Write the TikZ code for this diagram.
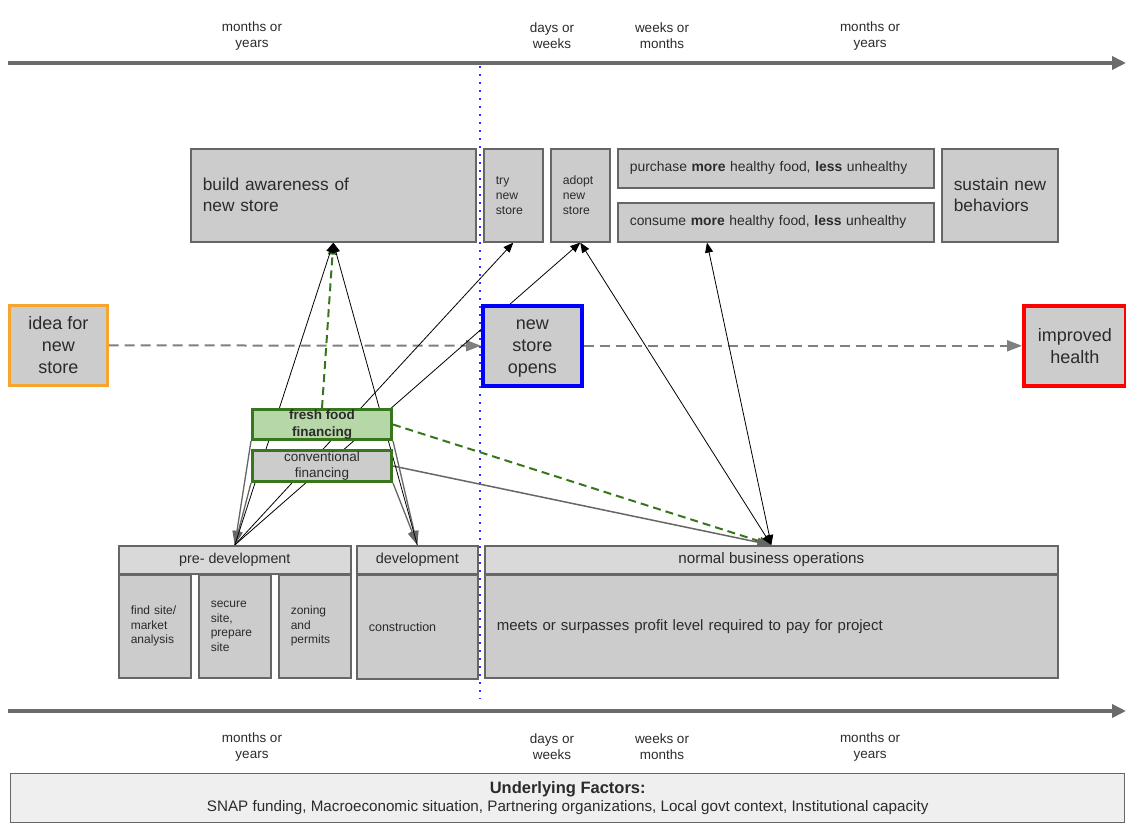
\documentclass[tikz,border=0pt]{standalone}
\usepackage{fontspec}
\setmainfont{Liberation Sans}
\usetikzlibrary{arrows.meta,calc,backgrounds}
\definecolor{boxfill}{HTML}{CCCCCC}
\definecolor{hdrfill}{HTML}{D9D9D9}
\definecolor{boxline}{HTML}{666666}
\definecolor{txt}{HTML}{2B2B2B}
\definecolor{gfill}{HTML}{B6D7A8}
\definecolor{gline}{HTML}{38761D}
\definecolor{orng}{HTML}{F6A530}
\definecolor{tline}{HTML}{6B6B6B}
\definecolor{dgray}{HTML}{7F7F7F}
\definecolor{ufill}{HTML}{EFEFEF}
\begin{document}
\begin{tikzpicture}[x=1pt,y=-1pt,
  every node/.style={text=txt},
  box/.style={draw=boxline, fill=boxfill, line width=1.6pt, inner sep=0pt, anchor=north west},
  hdr/.style={box, fill=hdrfill},
  blk/.style={draw=black, line width=0.8pt, -{Triangle[length=10pt,width=8pt]}},
  blk2/.style={draw=black, line width=0.8pt, {Triangle[length=10pt,width=8pt]}-{Triangle[length=10pt,width=8pt]}},
  gra/.style={draw=boxline, line width=1.3pt, -{Triangle[length=14pt,width=9pt]}},
  gdash/.style={draw=gline, line width=2pt, dash pattern=on 8pt off 5pt, -{Triangle[length=12pt,width=9pt]}},
  tldash/.style={draw=dgray, line width=2pt, dash pattern=on 10pt off 6pt, -{Triangle[length=15pt,width=11pt]}},
  tlarrow/.style={draw=tline, line width=3.5pt, -{Triangle[length=14pt,width=13pt]}},
  tlab/.style={font=\fontsize{13.5}{16}\selectfont, align=center}
]
\useasboundingbox (0,0) rectangle (1126,824);

% top row
\node[box, minimum width=285pt, minimum height=93pt, text width=261pt, align=left, font=\fontsize{17.3}{21}\selectfont] (aware) at (190,148) {build awareness of\\new store};
\node[box, minimum width=59pt, minimum height=93pt, text width=35pt, align=left, font=\fontsize{12.2}{15}\selectfont] (try) at (483,148) {try\\new\\store};
\node[box, minimum width=59pt, minimum height=93pt, text width=35pt, align=left, font=\fontsize{12.2}{15}\selectfont] (adopt) at (550,148) {adopt\\new\\store};
\node[box, minimum width=316pt, minimum height=39pt, text width=292pt, align=left, font=\fontsize{13.9}{16}\selectfont] (purchase) at (617,148) {purchase \textbf{more} healthy food, \textbf{less} unhealthy};
\node[box, minimum width=316pt, minimum height=39pt, text width=292pt, align=left, font=\fontsize{13.9}{16}\selectfont] (consume) at (617,202) {consume \textbf{more} healthy food, \textbf{less} unhealthy};
\node[box, minimum width=116pt, minimum height=93pt, text width=92pt, align=left, font=\fontsize{17.3}{21}\selectfont] (sustain) at (941,148) {\mbox{sustain new}\\behaviors};

% middle row
\node[box, draw=orng, line width=2.6pt, minimum width=98pt, minimum height=80pt, align=center, font=\fontsize{18}{22}\selectfont] (idea) at (8,304) {idea for\\new\\store};
\node[box, draw=blue, line width=3.6pt, minimum width=99pt, minimum height=80pt, align=center, font=\fontsize{18}{22}\selectfont] (opens) at (481,304) {\rule{0pt}{16pt}new\\store\\opens};
\node[box, draw=red, line width=3.6pt, minimum width=102pt, minimum height=80pt, align=center, font=\fontsize{18}{22}\selectfont] (health) at (1022,304) {improved\\health};

% financing
\node[box, draw=gline, fill=gfill, line width=3pt, minimum width=139pt, minimum height=30pt, align=center, font=\fontsize{13.5}{17}\selectfont\bfseries] (fresh) at (251,408) {fresh food\\financing};
\node[box, draw=gline, line width=3pt, minimum width=139pt, minimum height=31pt, align=center, font=\fontsize{13.5}{16}\selectfont] (conv) at (251,449) {conventional\\financing};

% bottom row
\node[hdr, minimum width=232pt, minimum height=28pt, font=\fontsize{14.3}{16}\selectfont] (predev) at (118,545) {pre- development};
\node[box, minimum width=72pt, minimum height=103pt, text width=48pt, align=left, font=\fontsize{12}{14.5}\selectfont] (find) at (118,574) {find site/\\market\\analysis};
\node[box, minimum width=72pt, minimum height=103pt, text width=48pt, align=left, font=\fontsize{12}{14.5}\selectfont] (secure) at (198,574) {secure\\site,\\prepare\\site};
\node[box, minimum width=72pt, minimum height=103pt, text width=48pt, align=left, font=\fontsize{12}{14.5}\selectfont] (zoning) at (278,574) {zoning\\and\\permits};
\node[hdr, minimum width=121pt, minimum height=28pt, font=\fontsize{14.5}{17}\selectfont] (dev) at (356,545) {development};
\node[box, minimum width=121pt, minimum height=104pt, text width=97pt, align=left, font=\fontsize{12.5}{15}\selectfont] (constr) at (356,574) {construction};
\node[hdr, minimum width=573pt, minimum height=28pt, font=\fontsize{15.2}{17}\selectfont] (ops) at (484,545) {normal business operations};
\node[box, minimum width=573pt, minimum height=103pt, text width=549pt, align=left, font=\fontsize{15}{18}\selectfont] (meets) at (484,574) {meets or surpasses profit level required to pay for project};

% underlying factors
\node[box, fill=ufill, line width=1.4pt, minimum width=1114pt, minimum height=49pt, align=center, font=\fontsize{15.2}{18}\selectfont] (under) at (10,773) {{\fontsize{16.5}{18}\selectfont\textbf{Underlying Factors:}}\\SNAP funding, Macroeconomic situation, Partnering organizations, Local govt context, Institutional capacity};

% timeline labels
\node[tlab] (t1) at (252,36) {months or\\years};
\node[tlab] (t2) at (552,36) {days or\\weeks};
\node[tlab] (t3) at (662,36) {weeks or\\months};
\node[tlab] (t4) at (870,36) {months or\\years};
\node[tlab] (b1) at (252,747) {months or\\years};
\node[tlab] (b2) at (552,747) {days or\\weeks};
\node[tlab] (b3) at (662,747) {weeks or\\months};
\node[tlab] (b4) at (870,747) {months or\\years};

\coordinate (tlA) at (8,63);
\coordinate (tlB) at (1126,63);
\coordinate (blA) at (8,711);
\coordinate (blB) at (1126,711);
\coordinate (vA) at (480,66);
\coordinate (vB) at (480,699);
\coordinate (cons) at ($(consume.south west)+(90,0)$);

\begin{scope}[on background layer]
\draw[tlarrow] (tlA) -- (tlB);
\draw[tlarrow] (blA) -- (blB);
\draw[blue!80!white, line width=2pt, dash pattern=on 2pt off 6pt] (vA) -- (vB);
\draw[tldash] (idea) -- (opens);
\draw[tldash] (opens) -- (health);
% gray arrows from financing to phases
\draw[gra] (fresh.south west) -- (predev.north);
\draw[gra] (conv.south west) -- (predev.north);
\draw[gra] (fresh.south east) -- (dev.north);
\draw[gra] (conv.south east) -- (dev.north);
% green dashed
\draw[gdash] (fresh.north) -- (aware.south);
\draw[gdash] (fresh.east) -- (ops.north);
% conventional to operations
\draw[gra, line width=1.5pt] (conv.east) -- (ops.north);
% black arrows
\draw[blk] (predev.north) -- (aware.south);
\draw[blk] (dev.north) -- (aware.south);
\draw[blk] (predev.north) -- (try.south);
\draw[blk] (predev.north) -- (adopt.south);
\draw[blk2] (ops.north) -- (adopt.south);
\draw[blk2] (ops.north) -- (cons);
\end{scope}
\end{tikzpicture}
\end{document}
